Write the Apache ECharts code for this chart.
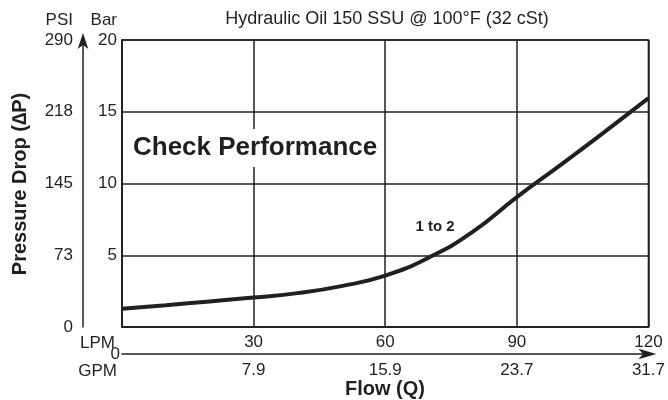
<!DOCTYPE html>
<html>
<head>
<meta charset="utf-8">
<script src="https://cdn.jsdelivr.net/npm/echarts@6/dist/echarts.min.js"></script>
<style>html,body{margin:0;padding:0;background:#fff}#c{width:668px;height:400px}</style>
</head>
<body>
<div id="c"></div>
<script>
var flowLpm = [0, 10, 20, 30, 40, 50, 60, 70, 80, 90, 100, 110, 120];
var pressureBar = [1.28, 1.52, 1.78, 2.05, 2.36, 2.85, 3.58, 4.85, 6.65, 9.05, 11.3, 13.6, 15.95];
var barLabels = ['', '5', '10', '15', '20'];
var psiLabels = ['0', '73', '145', '218', '290'];
var lpmLabels = ['', '30', '60', '90', '120'];
var gpmLabels = ['', '7.9', '15.9', '23.7', '31.7'];
var titleText = 'Hydraulic Oil 150 SSU @ 100°F (32 cSt)';

var INK = '#231f20';
var FONT = '"Liberation Sans", Arial, Helvetica, sans-serif';
var TS = 17;
var chart = echarts.init(document.getElementById('c'));
var pts = flowLpm.map(function (x, i) { return [x, pressureBar[i]]; });

chart.setOption({
  animation: false,
  textStyle: { fontFamily: FONT, color: INK },
  grid: { left: 122, right: 17, top: 40, bottom: 73, show: true, borderColor: INK, borderWidth: 1.5, backgroundColor: 'transparent' },
  xAxis: [{
    type: 'value', min: 0, max: 120, interval: 30, position: 'bottom',
    axisLine: { show: true, onZero: false, lineStyle: { color: INK, width: 1.5 } },
    axisTick: { show: false },
    axisLabel: { margin: 7, fontSize: TS, color: INK, fontFamily: FONT,
      formatter: function (v) { return lpmLabels[Math.round(v / 30)]; } },
    splitLine: { show: true, lineStyle: { color: INK, width: 1.5 } }
  }, {
    type: 'value', min: 0, max: 120, interval: 30, position: 'bottom', offset: 27,
    axisLine: { show: true, onZero: false, symbol: ['none', 'arrow'], symbolSize: [8, 18], symbolOffset: [0, 8], lineStyle: { color: INK, width: 1.5 } },
    axisTick: { show: false },
    axisLabel: { margin: 8, fontSize: TS, color: INK, fontFamily: FONT,
      formatter: function (v) { return gpmLabels[Math.round(v / 30)]; } },
    splitLine: { show: false },
    name: '0', nameLocation: 'start', nameGap: 2,
    nameTextStyle: { fontSize: TS, color: INK, fontFamily: FONT }
  }],
  yAxis: [{
    type: 'value', min: 0, max: 20, interval: 5, position: 'left',
    axisLine: { show: true, onZero: false, lineStyle: { color: INK, width: 1.5 } },
    axisTick: { show: false },
    axisLabel: { margin: 5, fontSize: TS, color: INK, fontFamily: FONT,
      formatter: function (v) { return barLabels[Math.round(v / 5)]; } },
    splitLine: { show: true, lineStyle: { color: INK, width: 1.5 } }
  }, {
    type: 'value', min: 0, max: 20, interval: 5, position: 'left', offset: 39,
    axisLine: { show: true, onZero: false, symbol: ['none', 'arrow'], symbolSize: [8, 16], symbolOffset: [0, 7], lineStyle: { color: INK, width: 1.5 } },
    axisTick: { show: false },
    axisLabel: { margin: 10, fontSize: TS, color: INK, fontFamily: FONT,
      formatter: function (v) { return psiLabels[Math.round(v / 5)]; } },
    splitLine: { show: false }
  }],
  series: [{
    type: 'line', xAxisIndex: 0, yAxisIndex: 0, data: pts, smooth: 0.5,
    showSymbol: false, symbol: 'none', lineStyle: { color: INK, width: 4 }, z: 5
  }],
  graphic: [
    { type: 'text', z: 10, x: 387, y: 19, style: { text: titleText, font: '18px ' + FONT, fill: INK, align: 'center', verticalAlign: 'middle' } },
    { type: 'text', z: 10, x: 73, y: 20, style: { text: 'PSI', font: TS + 'px ' + FONT, fill: INK, align: 'right', verticalAlign: 'middle' } },
    { type: 'text', z: 10, x: 117, y: 20, style: { text: 'Bar', font: TS + 'px ' + FONT, fill: INK, align: 'right', verticalAlign: 'middle' } },
    { type: 'text', z: 10, x: 115, y: 343, style: { text: 'LPM', font: TS + 'px ' + FONT, fill: INK, align: 'right', verticalAlign: 'middle' } },
    { type: 'text', z: 10, x: 117, y: 371, style: { text: 'GPM', font: TS + 'px ' + FONT, fill: INK, align: 'right', verticalAlign: 'middle' } },
    { type: 'text', z: 10, x: 20, y: 184, rotation: Math.PI / 2, style: { text: 'Pressure Drop (\u2206P)', font: 'bold 20px ' + FONT, fill: INK, align: 'center', verticalAlign: 'middle' } },
    { type: 'text', z: 10, x: 385, y: 389, style: { text: 'Flow (Q)', font: 'bold 20px ' + FONT, fill: INK, align: 'center', verticalAlign: 'middle' } },
    { type: 'text', z: 10, x: 131, y: 148, style: { text: 'Check Performance', font: 'bold 26px ' + FONT, fill: INK, align: 'left', verticalAlign: 'middle', backgroundColor: '#fff', padding: [6, 2, 6, 2] } },
    { type: 'text', z: 10, x: 435, y: 227, style: { text: '1 to 2', font: 'bold 15px ' + FONT, fill: INK, align: 'center', verticalAlign: 'middle' } }
  ]
});
</script>
</body>
</html>
